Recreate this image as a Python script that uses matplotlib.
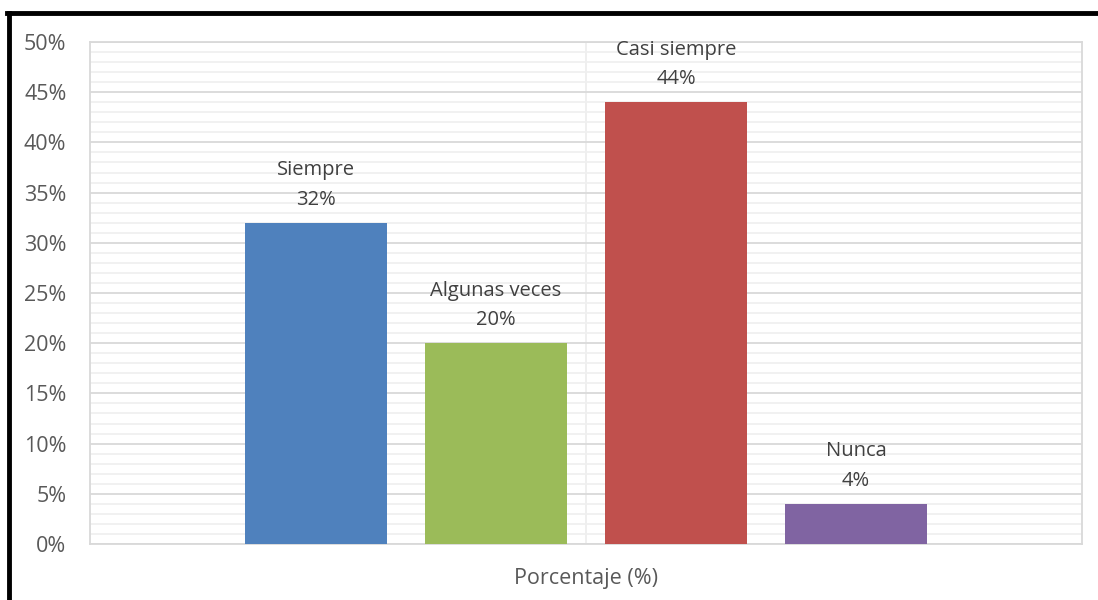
import matplotlib
matplotlib.use("Agg")
import matplotlib.pyplot as plt
from matplotlib.ticker import MultipleLocator, FuncFormatter
from matplotlib.lines import Line2D

categories = ["Siempre", "Algunas veces", "Casi siempre", "Nunca"]
values = [32, 20, 44, 4]
colors = ["#4f81bd", "#9bbb59", "#c0504d", "#8064a2"]
xlabel = "Porcentaje (%)"

plt.rcParams['font.family'] = ['Open Sans', 'DejaVu Sans']

fig = plt.figure(figsize=(10.98, 6.0), dpi=100)
ax = fig.add_axes([90/1098, 1-544/600, 992/1098, 502/600])

pos = list(range(len(values)))
ax.bar(pos, values, width=0.79, color=colors, zorder=3)
for p, c, v in zip(pos, categories, values):
    ax.annotate(f"{c}\n{v}%", (p, v), xytext=(0, 9.5), textcoords="offset points",
                ha="center", va="bottom", fontsize=14.5, color="#404040",
                linespacing=1.62, zorder=4)

ax.set_xlim(-1.256, 4.256)
ax.set_ylim(0, 50)
ax.yaxis.set_major_locator(MultipleLocator(5))
ax.yaxis.set_minor_locator(MultipleLocator(1))
ax.yaxis.set_major_formatter(FuncFormatter(lambda v, _: f"{v:.0f}%"))
ax.grid(axis="y", which="major", color="#d9d9d9", linewidth=1.3, zorder=1)
ax.grid(axis="y", which="minor", color="#f0f0f0", linewidth=1.3, zorder=0)
ax.axvline(1.5, color="#eeeeee", linewidth=1.3, zorder=1)
ax.set_xticks([])
ax.tick_params(axis="y", which="both", length=0, labelsize=15.5, labelcolor="#595959", pad=17)
for s in ax.spines.values():
    s.set_color("#d9d9d9")
    s.set_linewidth(1.3)
ax.set_xlabel(xlabel, fontsize=15.5, color="#595959", labelpad=17)

# outer frame (top and left edges visible)
fig.add_artist(Line2D([8.5/1098, 8.5/1098], [0, 1-12.5/600], color="black", linewidth=3.5,
                      transform=fig.transFigure))
fig.add_artist(Line2D([7/1098, 1], [1-12.5/600, 1-12.5/600], color="black", linewidth=3.5,
                      transform=fig.transFigure))

fig.savefig("out.png", dpi=100)
